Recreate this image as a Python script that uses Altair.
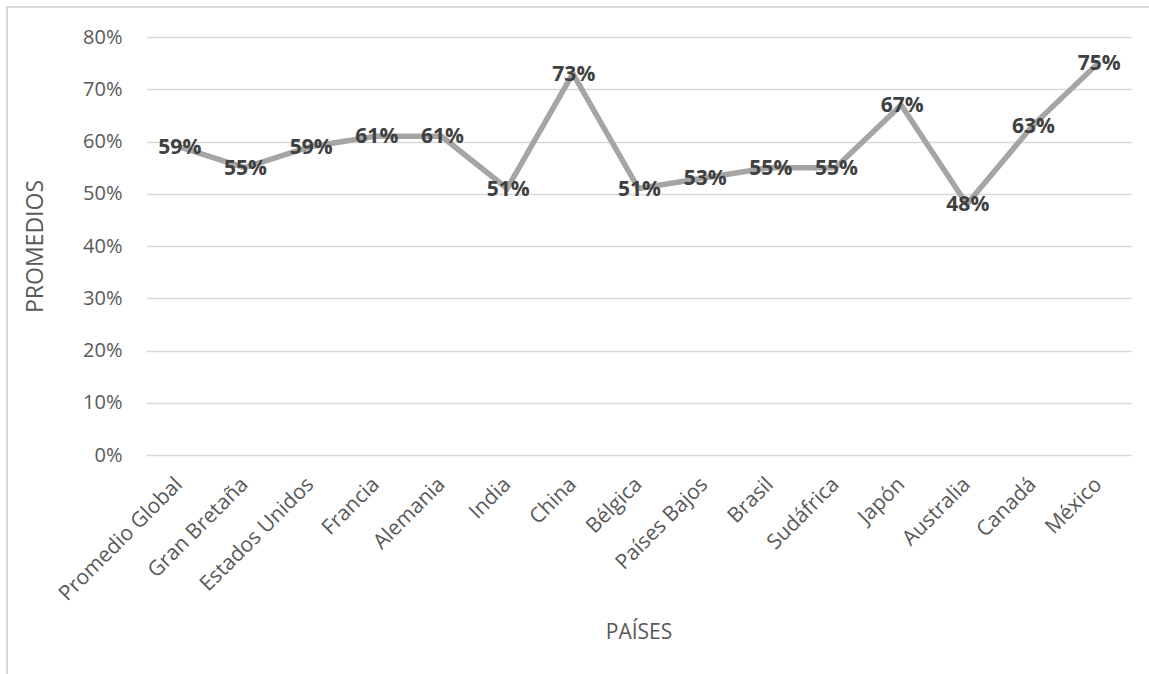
import altair as alt
import pandas as pd

# Countries and their average scores
paises = [
    "Promedio Global", "Gran Bretaña", "Estados Unidos", "Francia", "Alemania",
    "India", "China", "Bélgica", "Países Bajos", "Brasil", "Sudáfrica",
    "Japón", "Australia", "Canadá", "México",
]
promedios = [0.59, 0.55, 0.59, 0.61, 0.61, 0.51, 0.73, 0.51, 0.53, 0.55, 0.55,
             0.67, 0.48, 0.63, 0.75]
y_ticks = [0.0, 0.1, 0.2, 0.3, 0.4, 0.5, 0.6, 0.7, 0.8]

df = pd.DataFrame({"pais": paises, "promedio": promedios})

FONT = "Open Sans"
W, H = 985, 418

x_enc = alt.X(
    "pais:N",
    sort=paises,
    axis=alt.Axis(
        title="PAÍSES",
        labelAngle=315,
        labelAlign="right",
        labelBaseline="middle",
        labelPadding=26,
        labelFontSize=21,
        labelColor="#595959",
        labelFont=FONT,
        domain=False,
        ticks=False,
        grid=False,
        titleFont=FONT,
        titleFontSize=21,
        titleFontWeight="normal",
        titleColor="#595959",
        titleX=W / 2,
        titleY=177,
        titleAnchor="middle",
        titleBaseline="middle",
        labelOverlap=False,
    ),
)

y_enc = alt.Y(
    "promedio:Q",
    scale=alt.Scale(domain=[0, 0.8], nice=False),
    axis=alt.Axis(
        title="PROMEDIOS",
        values=y_ticks,
        format=".0%",
        labelFontSize=20,
        labelColor="#595959",
        labelFont=FONT,
        labelPadding=24,
        domain=False,
        ticks=False,
        grid=True,
        gridColor="#d9d9d9",
        gridWidth=1.3,
        titleFont=FONT,
        titleFontSize=23,
        titleFontWeight="normal",
        titleColor="#595959",
        titleAngle=270,
        titleX=-111,
        titleY=H / 2,
        titleAlign="center",
        titleBaseline="middle",
    ),
)

base = alt.Chart(df).encode(x=x_enc, y=y_enc)

line = base.mark_line(color="#a5a5a5", strokeWidth=5.5, strokeJoin="miter")

labels = base.mark_text(
    font=FONT, fontSize=21, fontWeight="bold", color="#404040",
    align="center", baseline="middle", dx=1, dy=1,
).encode(text=alt.Text("promedio:Q", format=".0%"))

# light frame around the whole figure
frame = alt.Chart(pd.DataFrame({"k": [0]})).mark_rect(
    fill=None, stroke="#d9d9d9", strokeWidth=2
).encode(
    x=alt.value(-139), x2=alt.value(W + 40),
    y=alt.value(-30), y2=alt.value(H + 240),
)

chart = alt.layer(frame, line, labels).properties(
    width=W,
    height=H,
    autosize=alt.AutoSizeParams(type="none"),
    padding={"left": 146, "top": 37, "right": 18, "bottom": 219},
    background="white",
).configure_view(stroke=None).configure_scale(bandPaddingInner=0, bandPaddingOuter=0)

chart.save("out.html", embed_options={"renderer": "svg", "actions": False})
